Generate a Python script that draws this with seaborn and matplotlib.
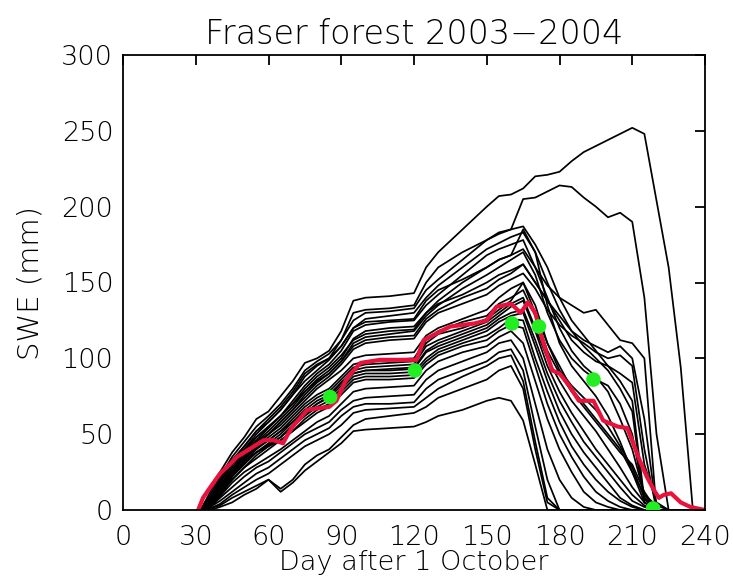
import numpy as np
import pandas as pd
import matplotlib
matplotlib.use("Agg")
import matplotlib.pyplot as plt
import seaborn as sns

# ---------------- data ----------------
days = [32, 36, 40, 45, 50, 55, 60, 65, 70, 75, 80, 85, 90, 95, 100, 110, 120, 125, 130, 140,
        150, 155, 160, 165, 170, 175, 180, 185, 190, 195, 200, 205, 210, 215, 220, 225, 230, 235, 240]

m01 = [0, 12, 25, 38, 48, 60, 65, 75, 85, 97, 100, 105, 118, 138, 140, 141, 143, 160, 170, 185, 200, 207, 208, 212, 220, 221, 223, 230, 236, 240, 244, 248, 252, 248, 204, 160, 94, 0, 0]
m02 = [0, 8, 20, 32, 42, 52, 58, 66, 76, 88, 95, 100, 112, 130, 132, 133, 135, 150, 160, 170, 178, 183, 185, 205, 206, 210, 214, 213, 206, 200, 193, 196, 190, 140, 50, 0, 0, 0, 0]
m03 = [0, 10, 22, 35, 45, 55, 62, 70, 80, 92, 98, 103, 112, 125, 130, 131, 133, 145, 152, 165, 178, 182, 185, 187, 175, 160, 140, 125, 115, 105, 95, 85, 72, 7, 0, 0, 0, 0, 0]
m04 = [0, 6, 18, 30, 40, 50, 58, 66, 76, 85, 92, 99, 108, 120, 126, 128, 130, 140, 148, 160, 172, 176, 180, 183, 170, 150, 132, 118, 108, 100, 92, 80, 65, 5, 0, 0, 0, 0, 0]
m05 = [0, 5, 15, 26, 38, 48, 55, 62, 72, 82, 90, 96, 105, 118, 122, 124, 125, 135, 142, 155, 168, 172, 175, 178, 160, 140, 120, 105, 95, 88, 78, 60, 40, 10, 0, 0, 0, 0, 0]
m06 = [0, 4, 12, 24, 35, 45, 52, 60, 68, 78, 86, 92, 100, 113, 118, 120, 121, 130, 138, 150, 160, 165, 168, 185, 170, 135, 110, 95, 85, 75, 62, 45, 25, 5, 0, 0, 0, 0, 0]
m07 = [0, 3, 10, 22, 33, 42, 50, 58, 66, 76, 84, 90, 98, 110, 114, 116, 118, 128, 135, 146, 155, 160, 165, 170, 155, 130, 112, 100, 92, 86, 82, 70, 50, 8, 0, 0, 0, 0, 0]
m08 = [0, 7, 20, 33, 42, 52, 60, 68, 78, 90, 96, 100, 108, 120, 124, 125, 126, 138, 145, 152, 160, 165, 168, 172, 160, 148, 140, 135, 130, 132, 122, 112, 110, 100, 0, 0, 0, 0, 0]
m09 = [0, 5, 16, 28, 38, 46, 54, 62, 70, 80, 88, 94, 102, 112, 116, 118, 119, 130, 136, 142, 150, 155, 158, 162, 150, 138, 128, 118, 112, 108, 104, 108, 100, 60, 0, 0, 0, 0, 0]
m10 = [0, 4, 14, 26, 36, 44, 50, 58, 66, 74, 82, 88, 96, 106, 110, 112, 113, 124, 130, 136, 142, 148, 152, 156, 146, 132, 122, 115, 110, 104, 100, 102, 95, 40, 0, 0, 0, 0, 0]
m11 = [0, 6, 18, 30, 40, 48, 55, 62, 70, 78, 85, 90, 98, 108, 112, 114, 115, 126, 132, 140, 146, 152, 156, 162, 150, 138, 125, 112, 104, 98, 95, 90, 84, 30, 5, 0, 0, 0, 0]
m12 = [0, 8, 18, 30, 38, 45, 50, 56, 64, 72, 80, 86, 92, 100, 102, 103, 104, 115, 120, 126, 132, 140, 146, 150, 130, 110, 95, 80, 70, 60, 50, 40, 25, 10, 3, 0, 0, 0, 0]
m13 = [0, 6, 15, 26, 34, 42, 48, 54, 62, 70, 76, 80, 88, 96, 98, 99, 100, 112, 118, 124, 128, 136, 140, 145, 128, 105, 90, 78, 68, 58, 48, 38, 30, 12, 0, 0, 0, 0, 0]
m14 = [0, 5, 14, 24, 32, 40, 46, 52, 60, 68, 74, 78, 86, 94, 96, 97, 98, 110, 116, 120, 126, 132, 138, 150, 135, 110, 92, 82, 74, 66, 55, 42, 28, 8, 0, 0, 0, 0, 0]
m15 = [0, 4, 12, 22, 30, 38, 44, 50, 58, 66, 72, 76, 84, 92, 94, 95, 96, 108, 112, 118, 124, 130, 136, 140, 120, 100, 85, 72, 62, 52, 40, 28, 15, 5, 0, 0, 0, 0, 0]
m16 = [0, 7, 16, 26, 34, 41, 46, 52, 58, 64, 70, 74, 82, 90, 92, 93, 94, 105, 110, 116, 122, 128, 134, 138, 118, 95, 78, 64, 52, 40, 30, 20, 10, 3, 0, 0, 0, 0, 0]
m17 = [0, 3, 10, 20, 28, 36, 42, 48, 56, 63, 70, 75, 84, 90, 92, 92, 93, 104, 108, 114, 120, 126, 130, 132, 112, 90, 72, 58, 45, 35, 25, 15, 6, 2, 0, 0, 0, 0, 0]
m18 = [0, 5, 13, 23, 31, 38, 43, 48, 55, 62, 68, 72, 80, 88, 90, 90, 91, 100, 106, 112, 118, 124, 128, 130, 108, 85, 65, 50, 38, 28, 18, 8, 3, 0, 0, 0, 0, 0, 0]
m19 = [0, 4, 11, 20, 28, 34, 40, 46, 52, 60, 66, 70, 78, 86, 88, 88, 89, 98, 104, 110, 115, 120, 126, 125, 100, 78, 58, 42, 30, 20, 12, 6, 2, 0, 0, 0, 0, 0, 0]
m20 = [0, 6, 14, 24, 32, 38, 42, 46, 52, 58, 64, 68, 76, 84, 86, 86, 87, 96, 102, 108, 112, 118, 122, 120, 95, 70, 50, 35, 22, 12, 6, 2, 0, 0, 0, 0, 0, 0, 0]
m21 = [0, 3, 9, 18, 25, 30, 35, 40, 46, 52, 58, 62, 70, 78, 80, 81, 82, 92, 98, 104, 108, 114, 118, 110, 85, 60, 40, 25, 12, 5, 2, 0, 0, 0, 0, 0, 0, 0, 0]
m22 = [0, 2, 8, 15, 22, 28, 32, 38, 44, 50, 54, 58, 66, 72, 74, 75, 76, 86, 92, 98, 104, 110, 112, 100, 70, 40, 20, 8, 2, 0, 0, 0, 0, 0, 0, 0, 0, 0, 0]
m23 = [0, 2, 6, 12, 18, 24, 28, 34, 40, 46, 50, 54, 62, 68, 70, 70, 71, 80, 86, 92, 98, 104, 106, 92, 55, 20, 0, 0, 0, 0, 0, 0, 0, 0, 0, 0, 0, 0, 0]
m24 = [0, 1, 4, 10, 15, 20, 24, 30, 36, 42, 46, 50, 56, 64, 66, 67, 68, 74, 80, 88, 95, 100, 102, 85, 45, 8, 0, 0, 0, 0, 0, 0, 0, 0, 0, 0, 0, 0, 0]
m25 = [0, 1, 3, 8, 12, 16, 20, 14, 20, 30, 36, 40, 48, 56, 60, 62, 64, 68, 74, 80, 86, 92, 95, 80, 40, 5, 0, 0, 0, 0, 0, 0, 0, 0, 0, 0, 0, 0, 0]
m26 = [0, 0, 2, 5, 10, 14, 20, 12, 18, 26, 32, 38, 44, 52, 53, 54, 55, 58, 62, 66, 72, 74, 72, 59, 30, 0, 0, 0, 0, 0, 0, 0, 0, 0, 0, 0, 0, 0, 0]

members = [m01, m02, m03, m04, m05, m06, m07, m08, m09, m10, m11, m12, m13,
           m14, m15, m16, m17, m18, m19, m20, m21, m22, m23, m24, m25, m26]

mean_day = [31, 33, 36, 40, 44, 47, 52, 58, 62, 66, 68, 70, 76, 80, 85, 88, 92, 94, 98, 106, 114,
            121, 124, 130, 135, 140, 145, 150, 154, 157, 160, 164, 167, 170, 173, 177, 180, 184,
            188, 194, 198, 204, 208, 213, 216, 219, 221, 223, 226, 230, 234, 240]
mean_swe = [0, 8, 15, 24, 30, 35, 40, 46, 46, 44, 50, 55, 66, 67, 68, 72, 86, 90, 97, 99, 99,
            99, 112, 117, 121, 122, 123, 125, 134, 135, 136, 130, 137, 130, 112, 92, 90, 82,
            72, 72, 59, 55, 54, 33, 22, 13, 8, 10, 11, 5, 2, 0]

obs_day = [85.4, 120.4, 160.4, 171.5, 194.0, 218.6]
obs_swe = [74.5, 92.0, 123.0, 121.0, 86.0, 1.0]

title = "Fraser forest 2003\u22122004"
xlabel = "Day after 1 October"
ylabel = "SWE (mm)"
xticks = [0, 30, 60, 90, 120, 150, 180, 210, 240]
yticks = [0, 50, 100, 150, 200, 250, 300]

# ---------------- plot ----------------
sns.set_style("white")
plt.rcParams["font.family"] = ["DejaVu Sans"]
plt.rcParams["font.weight"] = 200
plt.rcParams["text.color"] = "black"
plt.rcParams["axes.labelcolor"] = "black"

fig = plt.figure(figsize=(7.33, 5.81), dpi=100)
ax = fig.add_axes([123 / 733, 1 - 510 / 581, (705 - 123) / 733, (510 - 55) / 581])

rows = []
for i, m in enumerate(members):
    for d, v in zip(days, m):
        rows.append((i, d, v))
df = pd.DataFrame(rows, columns=["member", "day", "swe"])

sns.lineplot(data=df, x="day", y="swe", units="member", estimator=None,
             color="black", linewidth=1.25, ax=ax, legend=False)
sns.lineplot(x=mean_day, y=mean_swe, color="#e8123c", linewidth=3.0, ax=ax,
             estimator=None, sort=False)
sns.scatterplot(x=obs_day, y=obs_swe, color="#22ee22", s=110, edgecolor="none",
                ax=ax, zorder=5)

ax.set_xlim(0, 240)
ax.set_ylim(0, 300)
ax.set_xticks(xticks)
ax.set_yticks(yticks)
ax.tick_params(direction="in", length=7, width=1.3, top=True, right=True,
               labelsize=19.5, colors="black")
ax.tick_params(axis="x", pad=11)
ax.tick_params(axis="y", pad=7)
for lab in ax.get_xticklabels() + ax.get_yticklabels():
    lab.set_fontweight(200)
for s in ax.spines.values():
    s.set_visible(True)
    s.set_color("black")
    s.set_linewidth(1.3)
ax.set_title(title, fontsize=24, pad=8, fontweight=200, color="black")
ax.set_xlabel(xlabel, fontsize=19.5, labelpad=0, fontweight=200)
ax.set_ylabel(ylabel, fontsize=21, labelpad=12, fontweight=200)

fig.savefig("out.png", dpi=100)
